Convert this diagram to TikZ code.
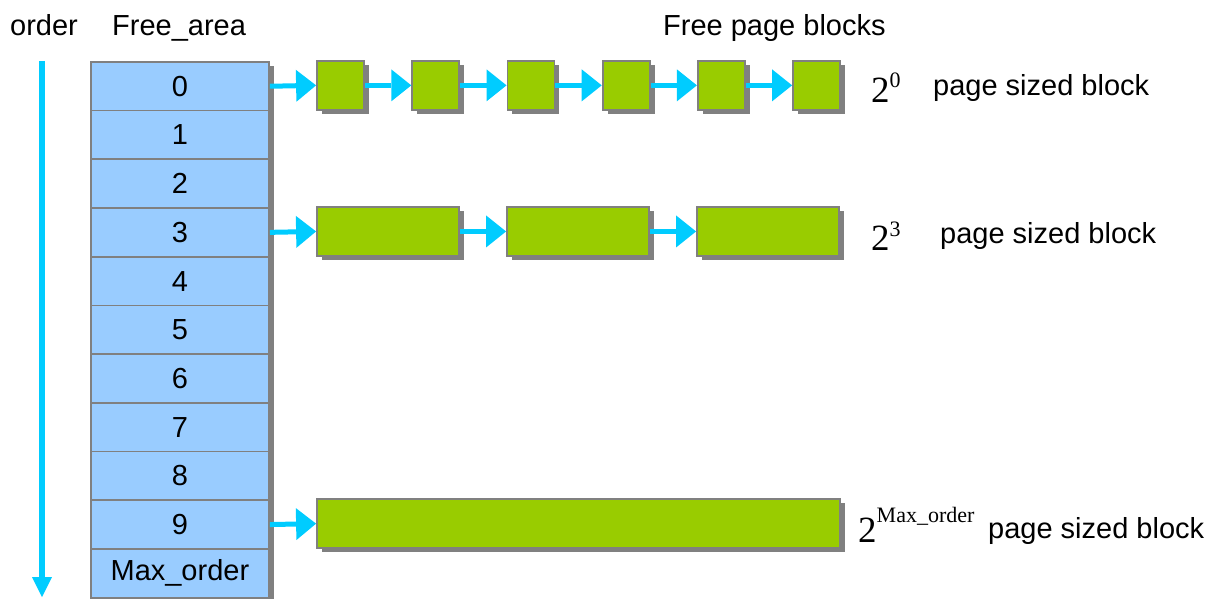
\documentclass[tikz,border=0pt]{standalone}
\usepackage{fontspec}
\setmainfont{Liberation Sans}
\newfontfamily\timesfont{Liberation Serif}
\usepackage{tikz}
\usetikzlibrary{arrows.meta}
\usetikzlibrary{shadows}

\definecolor{areablue}{HTML}{99CCFF}
\definecolor{blockgreen}{HTML}{99CC00}
\definecolor{linkcyan}{HTML}{00CCFF}
\definecolor{edgegray}{HTML}{808080}

\tikzset{
    boxshadow/.style={drop shadow={shadow xshift=5pt, shadow yshift=-4pt, fill=edgegray, opacity=1}},
    areacell/.style={draw=edgegray, line width=1.8pt, fill=areablue, boxshadow,
        minimum width=178pt, minimum height=48.7pt, inner sep=0pt, anchor=north west,
        font=\fontsize{29}{32}\selectfont},
    pageblock/.style={draw=edgegray, line width=1.8pt, fill=blockgreen, boxshadow,
        minimum height=48.7pt, inner sep=0pt},
    link/.style={linkcyan, line width=5pt, -{Triangle[length=20pt,width=32pt,line width=0pt]}},
    orderline/.style={linkcyan, line width=6pt, -{Triangle[length=20pt,width=20pt,line width=0pt]}},
    heading/.style={anchor=base west, inner sep=0pt, font=\fontsize{29}{32}\selectfont},
}

% 2^n in a serif face
\newcommand{\twopow}[2]{{\timesfont\fontsize{37}{40}\selectfont 2\raisebox{#2}{\fontsize{22}{24}\selectfont #1}}}

\begin{document}
\begin{tikzpicture}[x=1pt, y=-1pt]
        \useasboundingbox (0,0) rectangle (1221,599);

        % titles
        \node[heading] (ordlabel) at (10,36) {order};
        \node[heading] (arealabel) at (112,36) {Free\_area};
        \node[heading] (blocklabel) at (663,36) {Free page blocks};

        % order direction
        \coordinate (ordtop) at (42,61);
        \coordinate (ordend) at (42,597);
        \draw[orderline] (ordtop) -- (ordend);

        % free_area array
        \foreach \lab [count=\i from 0] in {0,1,2,3,4,5,6,7,8,9,Max\_order} {
            \node[areacell] (r\i) at (90,{61+48.7*\i}) {\lab};
        }

        % order 0: single pages
        \foreach \j in {0,...,5} {
            \node[pageblock, minimum width=47pt] (a\j) at ({340.5+95.2*\j},85.35) {};
        }
        \draw[link] (r0.east) -- (a0.west);
        \foreach \j/\k in {0/1,1/2,2/3,3/4,4/5} {
            \draw[link] (a\j.east) -- (a\k.west);
        }

        % order 3
        \foreach \j in {0,1,2} {
            \node[pageblock, minimum width=142pt] (c\j) at ({388+190*\j},231.45) {};
        }
        \draw[link] (r3.east) -- (c0.west);
        \draw[link] (c0.east) -- (c1.west);
        \draw[link] (c1.east) -- (c2.west);

        % order 9
        \node[pageblock, minimum width=523pt] (m0) at (578.5,523.65) {};
        \draw[link] (r9.east) -- (m0.west);

        % block sizes
        \node[heading] (pow0) at (871,103) {\twopow{0}{15pt}};
        \node[heading] (size0) at (933,96) {page sized block};
        \node[heading] (pow3) at (871,250) {\twopow{3}{14pt}};
        \node[heading] (size3) at (940,243) {page sized block};
        \node[heading] (powmax) at (858,542.7) {\twopow{Max\_order}{20pt}};
        \node[heading] (sizemax) at (988,538) {page sized block};
\end{tikzpicture}
\end{document}
